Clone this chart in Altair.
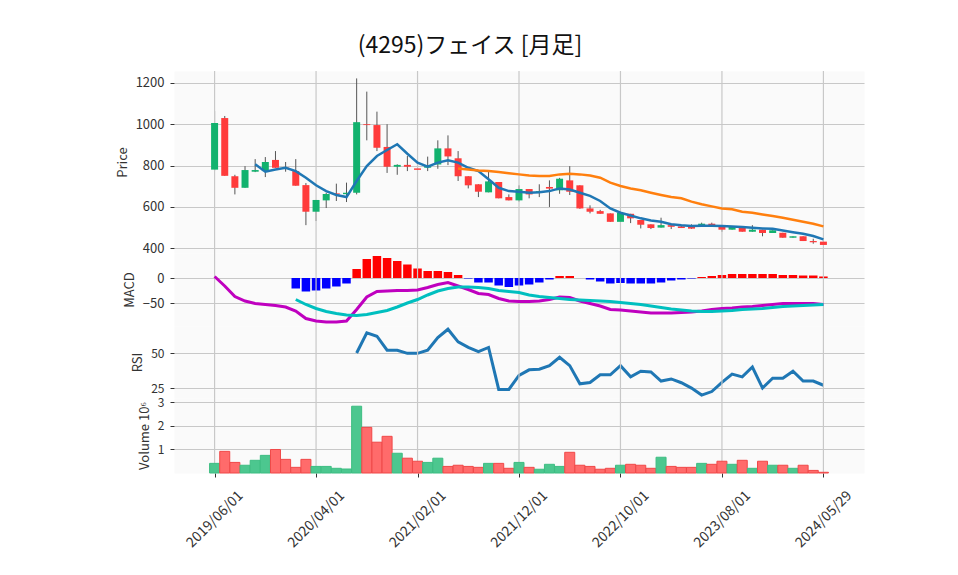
import altair as alt
import pandas as pd

FONT = "Noto Sans CJK JP"
title_text = "(4295)フェイス [月足]"
tick_labels = ["2019/06/01", "2020/04/01", "2021/02/01", "2021/12/01",
               "2022/10/01", "2023/08/01", "2024/05/29"]
tick_pos = [0, 10, 20, 30, 40, 50, 60]

opens = [780, 1030, 748, 692, 770, 773, 827, 790, 773, 705,
         576, 631, 665, 661, 668, 1000, 996, 890, 794, 803,
         786, 789, 805, 883, 835, 748, 709, 670, 720, 647,
         631, 686, 667, 696, 680, 728, 704, 592, 579, 568,
         527, 566, 536, 515, 499, 511, 505, 502, 502, 518,
         502, 489, 498, 479, 489, 473, 474, 450, 457, 434,
         431]
highs = [1064, 1040, 755, 797, 831, 841, 870, 817, 831, 715,
         633, 668, 712, 717, 1222, 1158, 1061, 1000, 806, 846,
         800, 843, 922, 946, 870, 748, 709, 773, 720, 660,
         704, 686, 709, 728, 740, 797, 704, 607, 585, 568,
         570, 566, 536, 515, 547, 511, 507, 515, 523, 523,
         502, 502, 498, 511, 489, 486, 474, 457, 457, 445,
         431]
lows = [775, 750, 660, 692, 768, 744, 789, 770, 702, 511,
        531, 594, 628, 623, 660, 922, 870, 764, 755, 773,
        779, 773, 784, 802, 725, 689, 647, 670, 641, 631,
        625, 641, 647, 599, 663, 657, 590, 568, 566, 527,
        527, 521, 495, 492, 499, 492, 497, 493, 502, 507,
        479, 489, 479, 479, 457, 473, 450, 450, 434, 421,
        415]
closes = [1006, 750, 692, 778, 778, 817, 789, 785, 702, 576,
          633, 662, 660, 668, 1010, 996, 886, 794, 803, 794,
          779, 800, 883, 844, 748, 704, 673, 723, 641, 631,
          686, 660, 676, 688, 736, 673, 592, 576, 566, 527,
          570, 544, 513, 497, 511, 503, 497, 494, 518, 507,
          489, 502, 479, 489, 473, 486, 450, 457, 434, 428,
          415]

ma_short = [None] * 4 + [
    806, 770, 781, 789, 773, 741, 704, 676, 657, 647,
    725, 797, 846, 875, 903, 857, 814, 794, 814, 825,
    814, 789, 773, 733, 692, 676, 673, 668, 670, 676,
    689, 684, 668, 653, 628, 592, 571, 558, 544, 534,
    527, 515, 510, 507, 508, 508, 507, 505, 502, 498,
    495, 493, 485, 477, 469, 458, 442]
ma_long = [None] * 24 + [
    786, 781, 776, 773, 768, 762, 757, 752, 749, 749,
    757, 760, 757, 752, 741, 717, 701, 689, 680, 668,
    657, 647, 641, 625, 612, 602, 592, 588, 576, 571,
    563, 555, 547, 537, 527, 518, 505]

macd = [3, -16, -37, -46, -51, -53, -55, -58, -66, -81,
        -86, -88, -88, -86, -63, -38, -27, -26, -25, -25,
        -24, -19, -13, -9, -16, -23, -31, -33, -41, -46,
        -47, -47, -46, -43, -38, -39, -46, -51, -56, -63,
        -64, -66, -68, -70, -70, -70, -69, -68, -66, -63,
        -61, -60, -58, -57, -55, -53, -51, -51, -51, -51,
        -53]
signal = [None] * 8 + [
    -43, -53, -61, -67, -71, -74, -75, -73, -69, -65,
    -58, -50, -43, -34, -26, -21, -18, -18, -19, -21,
    -25, -27, -29, -34, -37, -39, -41, -43, -44, -45,
    -46, -47, -49, -51, -53, -56, -59, -62, -64, -66,
    -67, -67, -66, -65, -63, -62, -61, -59, -57, -56,
    -55, -54, -53]
hist = [None] * 8 + [
    -21, -27, -25, -21, -17, -11, 18, 38, 44, 40,
    34, 27, 19, 14, 14, 12, 6, -1, -9, -9,
    -15, -18, -15, -13, -9, -3, 4, 4, 0, -3,
    -7, -11, -10, -11, -11, -11, -9, -5, -3, -1,
    2, 4, 6, 8, 8, 8, 8, 8, 6, 6,
    5, 5, 3]
rsi = [None] * 14 + [
    50, 64.5, 62, 52, 52, 49.8, 49.8, 52, 61, 67,
    58, 54, 51, 54, 24, 24, 34, 38, 38.5, 41,
    47, 41, 28, 29, 34.5, 34.5, 41, 33, 37, 36.5,
    30, 31.5, 28.8, 25, 20, 22.5, 29, 35, 33, 40,
    25, 32, 32, 37, 30, 30, 27]
volume_m = [0.41, 0.92, 0.45, 0.33, 0.54, 0.75, 1.0, 0.58, 0.24, 0.58,
            0.28, 0.28, 0.2, 0.17, 2.84, 1.94, 1.31, 1.56, 0.84, 0.63,
            0.5, 0.45, 0.63, 0.28, 0.33, 0.28, 0.24, 0.41, 0.41, 0.2,
            0.45, 0.24, 0.16, 0.37, 0.28, 0.88, 0.33, 0.28, 0.16, 0.2,
            0.33, 0.37, 0.33, 0.2, 0.67, 0.28, 0.24, 0.24, 0.41, 0.37,
            0.5, 0.37, 0.54, 0.2, 0.5, 0.33, 0.33, 0.2, 0.33, 0.11,
            0.03]
vol_colors = list("GRRGGGRRRR" "GGGGGRRRGR" "RGGRRRRGRR" "GRGGGRRRRR"
                  "GRRRGRRRGR" "RGRGRGRGRR" "R")

n = len(closes)
df = pd.DataFrame({
    "i": list(range(n)),
    "open": opens, "high": highs, "low": lows, "close": closes,
    "ma_s": ma_short, "ma_l": ma_long,
    "macd": macd, "signal": signal, "hist": hist, "rsi": rsi,
    "vol": volume_m,
})
df["dir"] = ["up" if c >= o else "down" for o, c in zip(opens, closes)]
df["vdir"] = ["up" if ch == "G" else "down" for ch in vol_colors]
df["hdir"] = ["pos" if (h is not None and h >= 0) else "neg" for h in hist]
grid_df = pd.DataFrame({"i": tick_pos})

W = 690
GRID = "#c8c8c8"
LFS = 13
xs = alt.Scale(domain=[-4, 64], nice=False, zero=False, padding=0)
x_hidden = alt.X("i:Q", scale=xs,
                 axis=alt.Axis(values=tick_pos, labels=False, ticks=False,
                               domain=False, title=None, grid=False))
label_expr = "[" + ",".join("'%s'" % t for t in tick_labels) + "][round(datum.value/10)]"
x_shown = alt.X("i:Q", scale=xs,
                axis=alt.Axis(values=tick_pos, labelExpr=label_expr, grid=False,
                              domain=False, title=None, ticks=True, tickSize=4,
                              labelAngle=315, labelAlign="center",
                              labelBaseline="middle", labelPadding=42,
                              labelOverlap=False, labelFlush=False,
                              labelFontSize=14, labelFont=FONT))


def yaxis(vals, title, lfs=LFS):
    return alt.Axis(values=vals, title=title, grid=True, domain=False, format="d",
                    tickSize=4, labelPadding=6, titlePadding=6,
                    labelFontSize=lfs, labelFont=FONT, titleFontSize=13)


def vgrid(h, xenc, color=GRID):
    return alt.Chart(grid_df).mark_rule(color=color, strokeWidth=1.2).encode(
        x=xenc, y=alt.value(0), y2=alt.value(h))


base = alt.Chart(df)

# ---- price panel
PH = 182
ps = alt.Scale(domain=[376, 1258], nice=False, zero=False)
wick = base.mark_rule(color="#555555", strokeWidth=1).encode(
    x=x_hidden, y=alt.Y("low:Q", scale=ps, axis=yaxis([400, 600, 800, 1000, 1200], "Price")),
    y2="high:Q")
body = base.mark_bar(size=7).encode(
    x=x_hidden, y=alt.Y("open:Q", scale=ps), y2="close:Q",
    color=alt.Color("dir:N", scale=alt.Scale(domain=["up", "down"],
                                             range=["#12b26e", "#ff3b3b"]), legend=None))
ma1 = base.mark_line(color="#1f77b4", strokeWidth=2.5).encode(
    x=x_hidden, y=alt.Y("ma_s:Q", scale=ps))
ma2 = base.mark_line(color="#ff7f0e", strokeWidth=2.5).encode(
    x=x_hidden, y=alt.Y("ma_l:Q", scale=ps))
tdf = pd.DataFrame({"t": [title_text]})
ttl = alt.Chart(tdf).mark_text(font=FONT, fontSize=23, color="#111111",
                               align="center", baseline="middle").encode(
    text="t:N", x=alt.value(296), y=alt.value(-25))
anchor = alt.Chart(tdf).mark_rule(opacity=0, strokeWidth=1).encode(
    x=alt.value(-160), x2=alt.value(-160), y=alt.value(-57), y2=alt.value(-56))
price = alt.layer(wick, vgrid(PH, x_hidden), body, ma1, ma2, ttl, anchor
                  ).properties(width=W, height=PH)

# ---- MACD panel
MH = 73
ms = alt.Scale(domain=[-96, 50], nice=False, zero=False)
hbar = base.mark_bar(size=8.5).encode(
    x=x_hidden, y=alt.Y("hist:Q", scale=ms, axis=yaxis([0, -50], "MACD")),
    y2=alt.datum(0),
    color=alt.Color("hdir:N", scale=alt.Scale(domain=["pos", "neg"],
                                              range=["#ff0000", "#0000ff"]), legend=None))
mline = base.mark_line(color="#bf00bf", strokeWidth=3).encode(
    x=x_hidden, y=alt.Y("macd:Q", scale=ms))
sline = base.mark_line(color="#00bfbf", strokeWidth=3).encode(
    x=x_hidden, y=alt.Y("signal:Q", scale=ms))
macd_panel = alt.layer(hbar, vgrid(MH, x_hidden), mline, sline
                       ).properties(width=W, height=MH)

# ---- RSI panel
RH = 72
rs = alt.Scale(domain=[17.9, 69.3], nice=False, zero=False)
rline = base.mark_line(color="#1f77b4", strokeWidth=3).encode(
    x=x_hidden, y=alt.Y("rsi:Q", scale=rs, axis=yaxis([25, 50], "RSI", 12)))
rsi_panel = alt.layer(rline, vgrid(RH, x_hidden)).properties(width=W, height=RH)

# ---- Volume panel
VH = 75
vs = alt.Scale(domain=[0, 3.19], nice=False, zero=False)
vbar = base.mark_bar(size=10, strokeWidth=1).encode(
    x=x_shown, y=alt.Y("vol:Q", scale=vs, axis=yaxis([1, 2, 3], "Volume  10⁶", 12)),
    y2=alt.datum(0),
    color=alt.Color("vdir:N", scale=alt.Scale(domain=["up", "down"],
                                              range=["#4cc78f", "#ff6b6b"]), legend=None),
    stroke=alt.Stroke("vdir:N", scale=alt.Scale(domain=["up", "down"],
                                                range=["#3dbd82", "#f04848"]), legend=None))
vol_panel = alt.layer(vgrid(VH, x_shown), vbar).properties(width=W, height=VH)

chart = alt.vconcat(price, macd_panel, rsi_panel, vol_panel, spacing=0,
                    bounds="flush").resolve_scale(color="independent", stroke="independent"
).configure_view(fill="#fafafa", stroke="transparent"
).configure_axis(labelFont=FONT, titleFont=FONT, labelFontSize=LFS, titleFontSize=13,
                 labelColor="#333333", titleColor="#333333", titleFontWeight="normal",
                 gridColor=GRID, gridWidth=1, tickColor="#333333"
).properties(background="white", padding=5)

chart.save("out.html", embed_options={"renderer": "svg", "actions": False})
